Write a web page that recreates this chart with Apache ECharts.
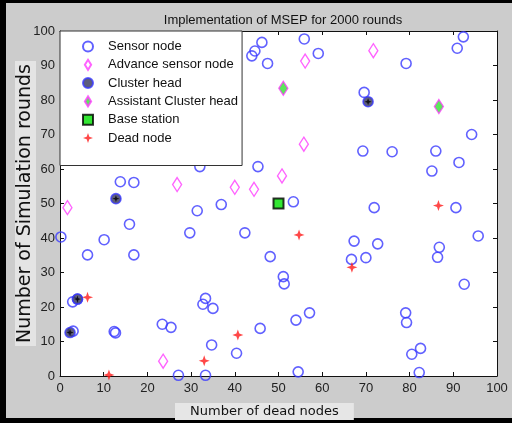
<!DOCTYPE html>
<html>
<head>
<meta charset="utf-8">
<script src="https://cdn.jsdelivr.net/npm/echarts@6/dist/echarts.min.js"></script>
<style>
  html, body { margin: 0; padding: 0; background: #000; }
  #frame { position: relative; width: 512px; height: 423px; background: #000; }
  #fig { position: absolute; left: 6px; top: 3px; width: 506px; height: 415px; background: #cccccc; }
  #chart { position: absolute; left: 0; top: 0; width: 512px; height: 423px; }
</style>
</head>
<body>
<div id="frame">
  <div id="fig"></div>
  <div id="chart"></div>
</div>
<script>
// values: [dead nodes, simulation rounds]
const sensorNodes = [
  [0.2, 40.3], [6.3, 35.1], [10.1, 39.5], [13.8, 56.3], [16.9, 56.1], [15.9, 44.0],
  [16.9, 35.1], [31.4, 47.9], [29.7, 41.5], [32.0, 60.7], [2.9, 21.5], [4.0, 22.3],
  [3.0, 13.0], [12.4, 12.9], [12.7, 12.5], [23.4, 15.0], [25.4, 14.1], [27.1, 0.2],
  [33.3, 0.2], [32.7, 20.8], [33.3, 22.5], [35.0, 19.6], [34.7, 9.0], [40.4, 6.6],
  [45.8, 13.8], [51.1, 28.8], [51.3, 26.7], [54.0, 16.2], [57.1, 18.3], [54.5, 1.2],
  [45.3, 60.7], [53.4, 50.5], [36.9, 49.7], [42.3, 41.5], [48.1, 34.6], [67.3, 39.1],
  [66.7, 33.8], [46.2, 96.7], [44.6, 94.2], [43.9, 92.8], [47.5, 90.6], [55.9, 97.7],
  [59.1, 93.5], [92.3, 98.3], [90.9, 95.0], [79.2, 90.6], [69.6, 82.2], [94.2, 70.0],
  [69.3, 65.2], [76.0, 65.0], [86.0, 65.2], [91.3, 61.9], [85.1, 59.4], [71.9, 48.8],
  [90.6, 48.8], [95.7, 40.6], [72.7, 38.3], [86.8, 37.3], [86.4, 34.4], [70.0, 34.3],
  [92.5, 26.6], [79.1, 18.3], [79.3, 15.5], [82.5, 8.0], [80.5, 6.3], [82.2, 1.0]
];
const advanceNodes = [
  [1.7, 48.8], [26.8, 55.5], [23.6, 4.3], [40.0, 54.7], [44.4, 54.1], [50.8, 58.0],
  [56.1, 91.3], [55.8, 67.2], [71.7, 94.3]
];
const clusterHeads = [[12.8, 51.4], [4.0, 22.3], [2.3, 12.6], [70.5, 79.5]];
const assistantHeads = [[51.1, 83.4], [86.7, 78.1]];
const baseStation = [[50, 50]];
const deadNodes = [
  [6.3, 22.8], [11.2, 0.3], [33.0, 4.4], [40.7, 11.9], [54.7, 40.9], [66.8, 31.5], [86.6, 49.4]
];
const legendNames = ['Sensor node', 'Advance sensor node', 'Cluster head', 'Assistant Cluster head', 'Base station', 'Dead node'];
const ticks = [0, 10, 20, 30, 40, 50, 60, 70, 80, 90, 100];

const font = 'Liberation Sans, Arial, sans-serif';
const wideFont = 'DejaVu Sans, sans-serif';
const star4 = 'path://M5,0 L6.3,3.7 L10,5 L6.3,6.3 L5,10 L3.7,6.3 L0,5 L3.7,3.7 Z';
const diamondPath = 'path://M5,0 L10,8 L5,16 L0,8 Z';
const squarePath = 'path://M0,0 L10,0 L10,10 L0,10 Z';

const chart = echarts.init(document.getElementById('chart'));

function axis(pos, showLabels) {
  return {
    type: 'value',
    position: pos,
    min: ticks[0],
    max: ticks[ticks.length - 1],
    interval: 10,
    axisLine: { show: true, onZero: false, lineStyle: { color: '#111', width: 1 } },
    axisTick: { show: true, inside: true, length: 4, lineStyle: { color: '#111' } },
    axisLabel: { show: showLabels, fontSize: 13, color: '#222', fontFamily: font, margin: 6 },
    splitLine: { show: false }
  };
}

const xBottom = axis('bottom', true);
const xTop = axis('top', false);
const yLeft = axis('left', true);
yLeft.axisLabel.margin = 5;
yLeft.name = 'Number of Simulation rounds';
yLeft.nameLocation = 'middle';
yLeft.nameRotate = 90;
yLeft.nameGap = 24;
yLeft.nameMoveOverlap = false;
yLeft.nameTextStyle = {
  fontSize: 19, color: '#111', fontFamily: wideFont,
  backgroundColor: '#e4e4e4', padding: [1, 3, 1, 3]
};
const yRight = axis('right', false);

const option = {
  backgroundColor: 'transparent',
  animation: false,
  title: {
    text: 'Implementation of MSEP for 2000 rounds',
    left: 278,
    top: 9,
    textAlign: 'center',
    textStyle: { fontSize: 13, fontWeight: 'normal', color: '#111', fontFamily: font }
  },
  legend: {
    orient: 'vertical',
    left: 60,
    top: 31,
    // narrow icons sit inside the 30px slot, so the left padding is counted from the icon edge
    padding: [9, 4, 21, 22],
    itemWidth: 30,
    itemHeight: 10,
    itemGap: 5.3,
    backgroundColor: '#fff',
    borderColor: '#333',
    borderWidth: 1,
    textStyle: { fontSize: 13, color: '#111', fontFamily: font },
    data: [
      legendNames[0],
      { name: legendNames[1], icon: diamondPath },
      legendNames[2],
      { name: legendNames[3], icon: diamondPath },
      { name: legendNames[4], icon: squarePath },
      legendNames[5]
    ]
  },
  grid: {
    left: 60, right: 15, top: 31, bottom: 47,
    show: true, backgroundColor: '#fff', borderWidth: 0
  },
  xAxis: [xBottom, xTop],
  yAxis: [yLeft, yRight],
  graphic: [{
    type: 'text',
    left: 175,
    top: 403,
    z: 10,
    style: {
      text: 'Number of dead nodes',
      font: '13px ' + wideFont,
      fill: '#111',
      backgroundColor: '#e6e6e6',
      padding: [2, 15, 2, 15]
    }
  }],
  series: [
    {
      name: legendNames[0], type: 'scatter', data: sensorNodes,
      symbol: 'circle', symbolSize: 10,
      itemStyle: { color: 'transparent', borderColor: '#3a3aff', borderWidth: 1.6 }
    },
    {
      name: legendNames[1], type: 'scatter', data: advanceNodes,
      symbol: 'diamond', symbolSize: [9, 14],
      itemStyle: { color: 'transparent', borderColor: '#ff3cff', borderWidth: 1.4 }
    },
    {
      name: legendNames[2], type: 'scatter', data: clusterHeads,
      symbol: 'circle', symbolSize: 10, z: 3,
      itemStyle: { color: '#34345c', borderColor: '#3a3aff', borderWidth: 1.6 }
    },
    {
      name: legendNames[2], type: 'scatter', data: clusterHeads,
      symbol: star4, symbolSize: 7, z: 4,
      itemStyle: { color: '#000' }
    },
    {
      name: legendNames[3], type: 'scatter', data: assistantHeads,
      symbol: 'diamond', symbolSize: [9, 14], z: 3,
      itemStyle: { color: '#33e033', borderColor: '#ff3cff', borderWidth: 1.4 }
    },
    {
      name: legendNames[4], type: 'scatter', data: baseStation,
      symbol: 'rect', symbolSize: 10, z: 3,
      itemStyle: { color: '#00e000', borderColor: '#000', borderWidth: 2 }
    },
    {
      name: legendNames[5], type: 'scatter', data: deadNodes,
      symbol: star4, symbolSize: 11, z: 4,
      itemStyle: { color: '#ff1a1a' }
    }
  ]
};

chart.setOption(option);
</script>
</body>
</html>
